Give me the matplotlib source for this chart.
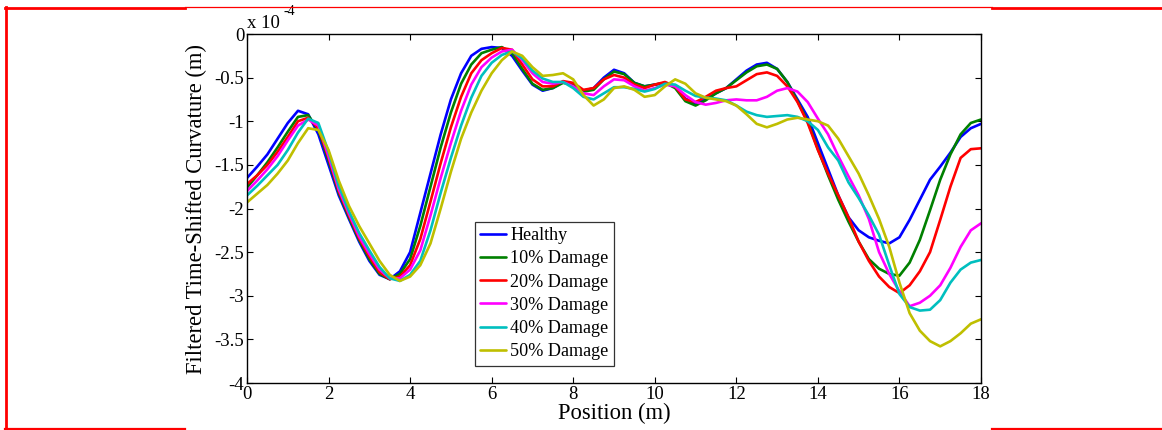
import matplotlib
matplotlib.use("Agg")
import matplotlib.pyplot as plt
from matplotlib.lines import Line2D

position = [i * 0.25 for i in range(73)]

healthy = [-1.65, -1.52, -1.38, -1.20, -1.02, -0.88, -0.92, -1.15, -1.50, -1.85,
           -2.12, -2.38, -2.60, -2.76, -2.81, -2.72, -2.50, -2.05, -1.60, -1.15,
           -0.75, -0.45, -0.25, -0.17, -0.15, -0.16, -0.25, -0.42, -0.58, -0.65,
           -0.62, -0.55, -0.57, -0.65, -0.62, -0.50, -0.41, -0.45, -0.56, -0.60,
           -0.58, -0.56, -0.60, -0.74, -0.80, -0.75, -0.68, -0.62, -0.52, -0.42,
           -0.35, -0.33, -0.40, -0.55, -0.75, -0.95, -1.25, -1.55, -1.85, -2.10,
           -2.25, -2.33, -2.37, -2.40, -2.33, -2.13, -1.90, -1.67, -1.52, -1.36,
           -1.18, -1.08, -1.03]
damage10 = [-1.76, -1.62, -1.47, -1.30, -1.12, -0.95, -0.93, -1.10, -1.45, -1.82,
            -2.10, -2.36, -2.58, -2.75, -2.81, -2.75, -2.58, -2.20, -1.75, -1.30,
            -0.90, -0.57, -0.35, -0.22, -0.18, -0.15, -0.22, -0.40, -0.57, -0.64,
            -0.62, -0.56, -0.58, -0.66, -0.64, -0.52, -0.43, -0.46, -0.56, -0.60,
            -0.58, -0.56, -0.62, -0.77, -0.82, -0.76, -0.68, -0.62, -0.53, -0.44,
            -0.37, -0.35, -0.40, -0.55, -0.77, -1.00, -1.32, -1.62, -1.90, -2.15,
            -2.38, -2.58, -2.69, -2.75, -2.77, -2.62, -2.36, -2.02, -1.67, -1.38,
            -1.15, -1.02, -0.98]
damage20 = [-1.72, -1.62, -1.50, -1.35, -1.18, -1.00, -0.96, -1.08, -1.42, -1.80,
            -2.08, -2.34, -2.55, -2.73, -2.81, -2.78, -2.65, -2.35, -1.92, -1.48,
            -1.07, -0.72, -0.45, -0.30, -0.22, -0.16, -0.18, -0.35, -0.52, -0.60,
            -0.60, -0.54, -0.56, -0.64, -0.62, -0.52, -0.47, -0.50, -0.58, -0.62,
            -0.58, -0.55, -0.60, -0.75, -0.78, -0.72, -0.65, -0.62, -0.60, -0.53,
            -0.46, -0.44, -0.48, -0.60, -0.78, -1.02, -1.33, -1.60, -1.85, -2.10,
            -2.38, -2.60, -2.78, -2.90, -2.97, -2.88, -2.72, -2.50, -2.13, -1.75,
            -1.42, -1.32, -1.31]
damage30 = [-1.80, -1.68, -1.55, -1.40, -1.22, -1.05, -0.98, -1.05, -1.40, -1.78,
            -2.06, -2.32, -2.52, -2.70, -2.80, -2.80, -2.70, -2.48, -2.08, -1.65,
            -1.25, -0.88, -0.58, -0.38, -0.27, -0.20, -0.18, -0.30, -0.45, -0.55,
            -0.57, -0.55, -0.60, -0.68, -0.70, -0.60, -0.52, -0.53, -0.60, -0.65,
            -0.62, -0.58, -0.60, -0.70, -0.78, -0.81, -0.79, -0.76, -0.75, -0.76,
            -0.76, -0.72, -0.65, -0.62, -0.66, -0.78, -0.97, -1.15, -1.40, -1.63,
            -1.85, -2.12, -2.50, -2.75, -2.95, -3.12, -3.08, -3.00, -2.88, -2.68,
            -2.44, -2.25, -2.17]
damage40 = [-1.85, -1.74, -1.62, -1.50, -1.33, -1.13, -0.97, -1.02, -1.35, -1.74,
            -2.03, -2.28, -2.48, -2.67, -2.80, -2.83, -2.76, -2.60, -2.25, -1.82,
            -1.42, -1.05, -0.73, -0.48, -0.33, -0.24, -0.20, -0.28, -0.42, -0.51,
            -0.55, -0.55, -0.62, -0.72, -0.75, -0.68, -0.61, -0.61, -0.63, -0.66,
            -0.63, -0.57, -0.58, -0.65, -0.71, -0.73, -0.74, -0.76, -0.82, -0.89,
            -0.93, -0.95, -0.94, -0.93, -0.95, -1.00, -1.10, -1.30, -1.45, -1.70,
            -1.88, -2.08, -2.30, -2.65, -2.98, -3.13, -3.17, -3.16, -3.05, -2.85,
            -2.70, -2.62, -2.59]
damage50 = [-1.93, -1.83, -1.73, -1.60, -1.45, -1.25, -1.08, -1.10, -1.33, -1.68,
            -1.97, -2.20, -2.40, -2.60, -2.76, -2.83, -2.78, -2.65, -2.40, -2.00,
            -1.58, -1.20, -0.90, -0.65, -0.45, -0.30, -0.20, -0.25, -0.38, -0.48,
            -0.47, -0.45, -0.52, -0.70, -0.82, -0.75, -0.62, -0.60, -0.64, -0.72,
            -0.70, -0.60, -0.52, -0.57, -0.68, -0.73, -0.75, -0.77, -0.82, -0.92,
            -1.03, -1.07, -1.03, -0.98, -0.96, -0.98, -1.00, -1.05, -1.20, -1.40,
            -1.60, -1.85, -2.12, -2.44, -2.85, -3.20, -3.40, -3.52, -3.58, -3.52,
            -3.43, -3.32, -3.27]

series_labels = ["Healthy", "10% Damage", "20% Damage", "30% Damage",
                 "40% Damage", "50% Damage"]
series_colors = ["#0000FF", "#008000", "#FF0000", "#FF00FF", "#00BFBF", "#BFBF00"]

x_ticks = [0, 2, 4, 6, 8, 10, 12, 14, 16, 18]
y_ticks = [0, -0.5, -1, -1.5, -2, -2.5, -3, -3.5, -4]
y_tick_labels = ["0", "-0.5", "-1", "-1.5", "-2", "-2.5", "-3", "-3.5", "-4"]

plt.rcParams["font.family"] = ["Liberation Serif", "DejaVu Serif"]

W, H = 1162, 430
fig = plt.figure(figsize=(W / 100, H / 100), dpi=100)
ax = fig.add_axes([247 / W, 1 - 383 / H, (981 - 247) / W, (383 - 34) / H])

all_series = [healthy, damage10, damage20, damage30, damage40, damage50]
for ys, lab, col in zip(all_series, series_labels, series_colors):
    ax.plot(position, ys, color=col, lw=1.9, label=lab,
            solid_capstyle="round", solid_joinstyle="round")

ax.set_xlim(0, 18)
ax.set_ylim(-4, 0)
ax.set_xticks(x_ticks)
ax.set_yticks(y_ticks)
ax.set_yticklabels(y_tick_labels)
ax.tick_params(direction="in", length=4, width=0.8, top=True, right=True,
               labelsize=13.5, pad=2, colors="black")
for s in ax.spines.values():
    s.set_linewidth(1.0)

ax.set_xlabel("Position (m)", fontsize=16.3, labelpad=0)
ax.set_ylabel("Filtered Time-Shifted Curvature (m)", fontsize=16.3, labelpad=5)

ax.text(0.0, 1.005, "x 10", transform=ax.transAxes, fontsize=13.5,
        ha="left", va="bottom")
ax.text(0.050, 1.045, "-4", transform=ax.transAxes, fontsize=10,
        ha="left", va="bottom")

leg = ax.legend(loc="lower left", bbox_to_anchor=(0.310, 0.05), fontsize=13.1,
                frameon=True, fancybox=False, edgecolor="black",
                handlelength=1.45, handletextpad=0.2, labelspacing=0.34,
                borderpad=0.3, borderaxespad=0)
leg.get_frame().set_linewidth(0.9)

# red frame around the figure
red = "#FF0000"
def fl(xs, ys, lw):
    fig.add_artist(Line2D([x / W for x in xs], [1 - y / H for y in ys],
                          color=red, lw=lw, transform=fig.transFigure))
fl([5, 185], [7.5, 7.5], 2.0)
fl([185, 992], [7, 7], 0.9)
fl([992, 1162], [7.5, 7.5], 2.0)
fl([6, 6], [7, 429], 2.0)
fl([5, 185], [429, 429], 1.6)
fl([992, 1162], [429, 429], 1.6)

fig.savefig("out.png", dpi=100)
